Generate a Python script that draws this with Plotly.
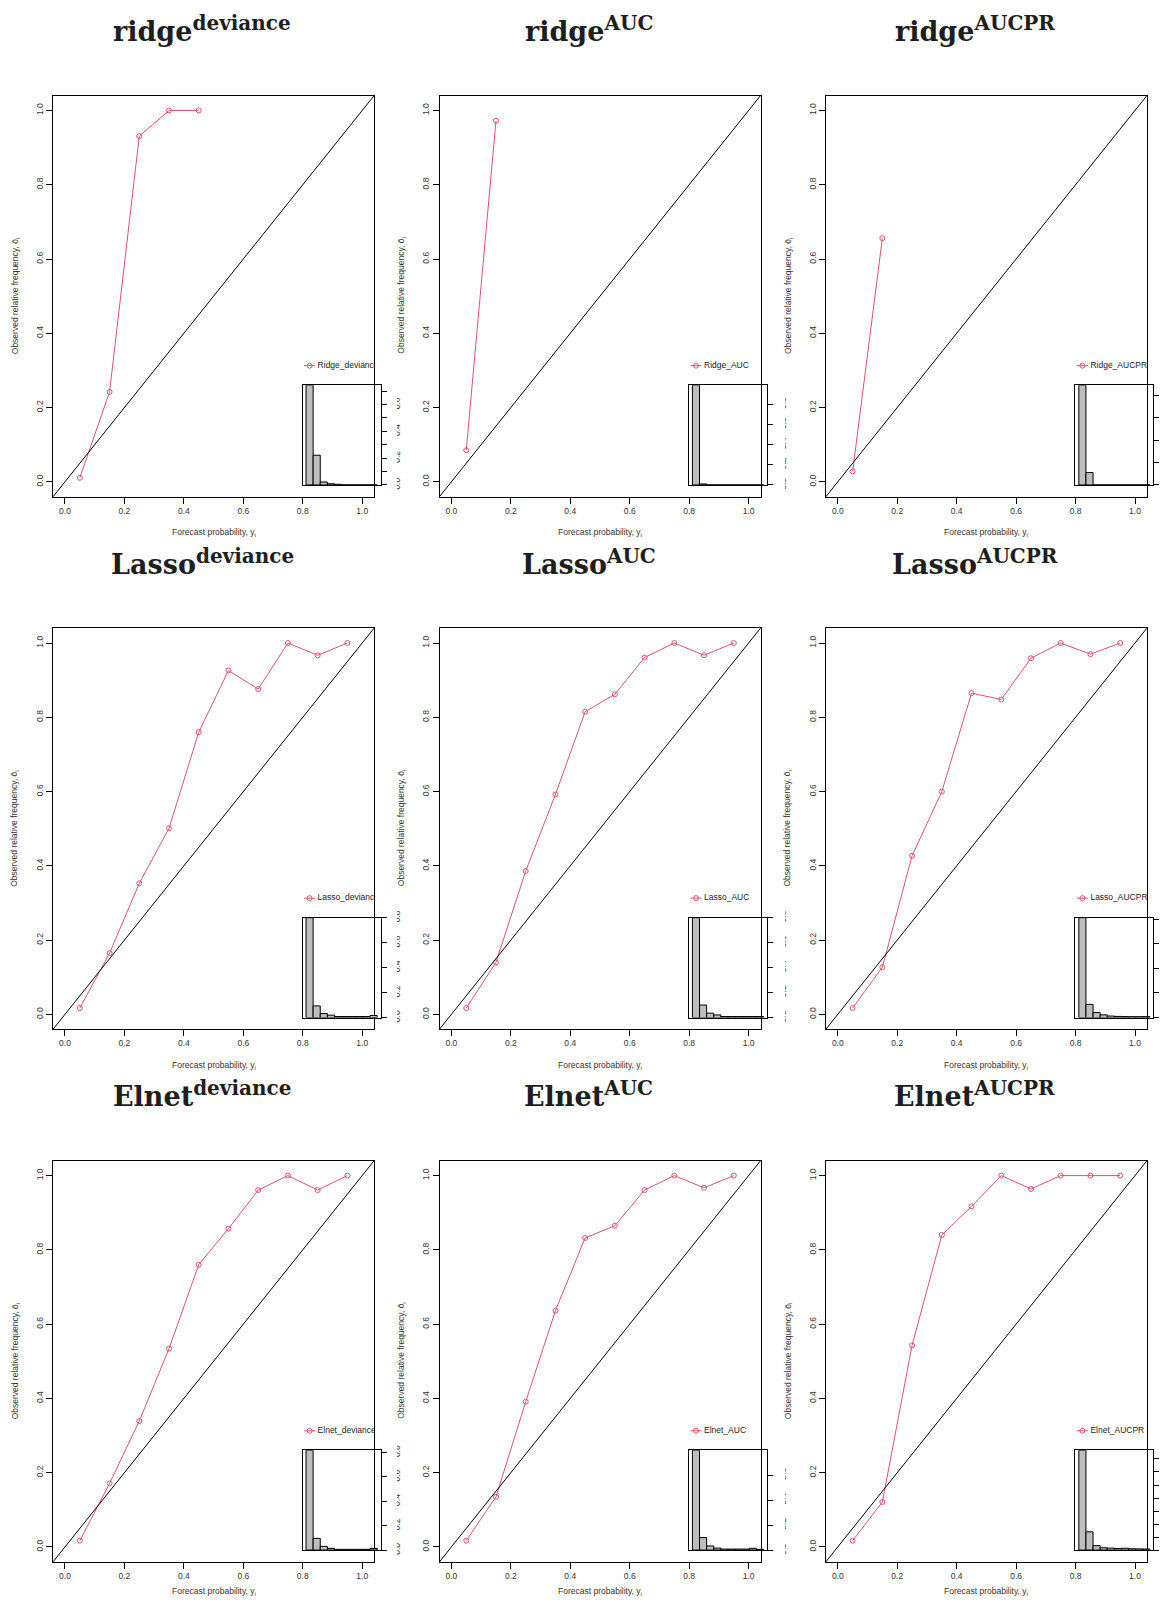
import plotly.graph_objects as go

W, H = 1164, 1603

# ---------------- data ----------------
row_models = ["Ridge", "Lasso", "Elnet"]
title_names = ["ridge", "Lasso", "Elnet"]
metrics = ["deviance", "AUC", "AUCPR"]

bin_mid = [0.05, 0.15, 0.25, 0.35, 0.45, 0.55, 0.65, 0.75, 0.85, 0.95]
axis_ticks = [0.0, 0.2, 0.4, 0.6, 0.8, 1.0]

# observed relative frequency per forecast bin
obs_ridge_deviance = [0.011, 0.242, 0.931, 1.0, 1.0]
obs_ridge_auc = [0.085, 0.972]
obs_ridge_aucpr = [0.028, 0.656]
obs_lasso_deviance = [0.017, 0.165, 0.353, 0.501, 0.760, 0.926, 0.876, 1.0, 0.967, 1.0]
obs_lasso_auc = [0.017, 0.140, 0.386, 0.592, 0.815, 0.862, 0.961, 1.0, 0.967, 1.0]
obs_lasso_aucpr = [0.017, 0.127, 0.427, 0.600, 0.865, 0.848, 0.959, 1.0, 0.970, 1.0]
obs_elnet_deviance = [0.017, 0.171, 0.339, 0.534, 0.760, 0.857, 0.961, 1.0, 0.961, 1.0]
obs_elnet_auc = [0.017, 0.135, 0.391, 0.636, 0.832, 0.865, 0.961, 1.0, 0.967, 1.0]
obs_elnet_aucpr = [0.017, 0.121, 0.543, 0.840, 0.917, 1.0, 0.964, 1.0, 1.0, 1.0]

# relative frequency of forecasts per bin (inset histogram)
hist_ridge_deviance = [0.745, 0.222, 0.022, 0.009, 0.005, 0, 0, 0, 0, 0]
hist_ridge_auc = [0.99, 0.01, 0, 0, 0, 0, 0, 0, 0, 0]
hist_ridge_aucpr = [0.89, 0.11, 0, 0, 0, 0, 0, 0, 0, 0]
hist_lasso_deviance = [0.80, 0.093, 0.032, 0.019, 0.008, 0.008, 0.008, 0.008, 0.008, 0.016]
hist_lasso_auc = [0.80, 0.10, 0.035, 0.021, 0.008, 0.008, 0.008, 0.008, 0.008, 0.008]
hist_lasso_aucpr = [0.814, 0.107, 0.041, 0.022, 0.012, 0.009, 0.008, 0.007, 0.007, 0.007]
hist_elnet_deviance = [0.818, 0.096, 0.030, 0.014, 0.006, 0.006, 0.006, 0.006, 0.006, 0.014]
hist_elnet_auc = [0.798, 0.10, 0.033, 0.016, 0.008, 0.008, 0.008, 0.008, 0.014, 0.006]
hist_elnet_aucpr = [0.767, 0.14, 0.034, 0.018, 0.015, 0.012, 0.014, 0.010, 0.009, 0.008]

# inset y tick values
inset_major = [0.0, 0.2, 0.4, 0.6, 0.8]
inset_minor = [0.1, 0.3, 0.5, 0.7]

obs_table = [
    [obs_ridge_deviance, obs_ridge_auc, obs_ridge_aucpr],
    [obs_lasso_deviance, obs_lasso_auc, obs_lasso_aucpr],
    [obs_elnet_deviance, obs_elnet_auc, obs_elnet_aucpr],
]
hist_table = [
    [hist_ridge_deviance, hist_ridge_auc, hist_ridge_aucpr],
    [hist_lasso_deviance, hist_lasso_auc, hist_lasso_aucpr],
    [hist_elnet_deviance, hist_elnet_auc, hist_elnet_aucpr],
]
fine_ticks = [[True, False, False], [False, False, False], [False, False, True]]

# ---------------- styling ----------------
RED = "#DF536B"
GREY = "#BEBEBE"
TXT = "#333333"
FONT = "Liberation Sans"

# vertical calibration of the captured page (measured on earlier renders)
OY, SY = 6.4, 0.9924

fig = go.Figure()
layout = dict(
    width=W, height=H, margin=dict(l=0, r=0, t=0, b=0, pad=0),
    paper_bgcolor="white", plot_bgcolor="rgba(0,0,0,0)",
    showlegend=False, font=dict(family=FONT, color=TXT),
)
annotations = []
shapes = []


def px_x(p):
    return p / W


def lay_y(p):
    return (p - OY) / SY


def px_y(p):
    return 1 - lay_y(p) / H


def rel_to_dx(rel):
    return -0.04 + rel / 321.0 * 1.08


def rel_to_dy(rel):
    return 1.04 - rel / 401.0 * 1.08


bins_x = [i + 0.5 for i in range(10)]

for r in range(3):
    for c in range(3):
        k = r * 3 + c
        bl = 53.1 + 386.4 * c
        br = bl + 321.0
        bt = 95.0 + 532.5 * r
        bb = bt + 401.0
        m = 2 * k + 1
        n = 2 * k + 2
        mxs = "x" if m == 1 else f"x{m}"
        mys = "y" if m == 1 else f"y{m}"
        nxs, nys = f"x{n}", f"y{n}"
        mxk = "xaxis" if m == 1 else f"xaxis{m}"
        myk = "yaxis" if m == 1 else f"yaxis{m}"
        nxk, nyk = f"xaxis{n}", f"yaxis{n}"

        obs = obs_table[r][c]
        hist = hist_table[r][c]
        label = f"{row_models[r]}_{metrics[c]}"

        # ----- main axes
        common = dict(
            range=[-0.04, 1.04], showline=True, mirror=True, linecolor="black",
            linewidth=1, ticks="outside", ticklen=6, tickcolor="black", tickwidth=1,
            tickvals=axis_ticks, ticktext=[f"{v:.1f}" for v in axis_ticks],
            tickfont=dict(size=8.5, color=TXT, family=FONT), showgrid=False,
            zeroline=False, fixedrange=True,
        )
        layout[mxk] = dict(common, domain=[px_x(bl), px_x(br)], anchor=mys)
        layout[myk] = dict(common, domain=[px_y(bb), px_y(bt)], anchor=mxs,
                           tickangle=-90)

        # diagonal reference line
        shapes.append(dict(type="line", xref=f"{mxs} domain", yref=f"{mys} domain",
                           x0=0, y0=0, x1=1, y1=1,
                           line=dict(color="black", width=1)))

        # reliability curve
        fig.add_trace(go.Scatter(
            x=bin_mid[:len(obs)], y=obs, xaxis=mxs, yaxis=mys,
            mode="lines+markers",
            line=dict(color=RED, width=1),
            marker=dict(symbol="circle-open", size=5, color=RED,
                        line=dict(color=RED, width=1)),
        ))

        # legend (clipped by the plot area, as in the original)
        ly = rel_to_dy(270)
        fig.add_trace(go.Scatter(
            x=[rel_to_dx(251), rel_to_dx(262)], y=[ly, ly], xaxis=mxs, yaxis=mys,
            mode="lines", line=dict(color=RED, width=1),
        ))
        fig.add_trace(go.Scatter(
            x=[rel_to_dx(256.5)], y=[ly], xaxis=mxs, yaxis=mys, mode="markers",
            marker=dict(symbol="circle-open", size=5, color=RED,
                        line=dict(color=RED, width=1)),
        ))
        fig.add_trace(go.Scatter(
            x=[rel_to_dx(264.5)], y=[ly], xaxis=mxs, yaxis=mys, mode="text",
            text=[label], textposition="middle right", cliponaxis=True,
            textfont=dict(size=8.5, color="#222222", family=FONT),
        ))

        # ----- inset histogram
        il, ir = bl + 249.5, bl + 327.5
        it, ib = bt + 289.5, bt + 389.3
        hmax = max(hist)
        tv = [v for v in inset_major if v <= hmax + 1e-9]
        minor = dict(ticks="")
        if fine_ticks[r][c]:
            minor = dict(tickvals=[v for v in inset_minor if v <= hmax + 1e-9],
                         ticks="outside", ticklen=5, tickcolor="black", tickwidth=1,
                         showgrid=False)
        layout[nxk] = dict(domain=[px_x(il), px_x(ir)], range=[-0.48, 10.48],
                           anchor=nys, showline=True, mirror=True, linecolor="black",
                           linewidth=1, showticklabels=False, ticks="",
                           showgrid=False, zeroline=False, fixedrange=True)
        layout[nyk] = dict(domain=[px_y(ib), px_y(it)], range=[0, hmax],
                           anchor=nxs, side="right", showline=True, mirror=True,
                           linecolor="black", linewidth=1, ticks="outside",
                           ticklen=5, tickcolor="black", tickvals=tv,
                           ticktext=[f"{v:.1f}" for v in tv],
                           showticklabels=(c < 2),
                           tickangle=-90, ticklabelstandoff=3, minor=minor,
                           tickfont=dict(size=8.5, color=TXT, family=FONT),
                           showgrid=False, zeroline=False, fixedrange=True)
        fig.add_trace(go.Bar(
            x=bins_x, y=hist, width=1, xaxis=nxs, yaxis=nys,
            marker=dict(color=GREY, line=dict(color="black", width=1)),
        ))

        # ----- titles and axis labels
        annotations.append(dict(
            text=(f"<b>{title_names[r]}<sup><span style='font-size:20px'>"
                  f"{metrics[c]}</span></sup></b>"),
            x=px_x(bl + 160.5 - 11.5), y=px_y(bt - 46.5), xref="paper", yref="paper",
            xanchor="center", yanchor="bottom", showarrow=False,
            font=dict(family="DejaVu Serif", size=27, color="#1e1e1e"),
        ))
        xt_layout = min(lay_y(bt + 437), 1596.5)
        annotations.append(dict(
            text="Forecast probability, y<sub>i</sub>",
            x=px_x(bl + 160.5), y=1 - xt_layout / H, xref="paper", yref="paper",
            xanchor="center", yanchor="middle", showarrow=False,
            font=dict(family=FONT, size=8.5, color=TXT),
        ))
        annotations.append(dict(
            text="Observed relative frequency, \u014d<sub>i</sub>",
            x=px_x(bl - 38), y=px_y(bt + 200.5), xref="paper", yref="paper",
            xanchor="center", yanchor="middle", showarrow=False, textangle=-90,
            font=dict(family=FONT, size=8.5, color=TXT),
        ))

# white strips emulating figure-region clipping of inset tick labels
for c in range(2):
    edge = 388.0 * (c + 1)
    shapes.append(dict(type="rect", xref="paper", yref="paper", layer="above",
                       x0=px_x(edge), x1=px_x(edge + 9), y0=0.01, y1=0.99,
                       fillcolor="white", line=dict(width=0)))

layout["annotations"] = annotations
layout["shapes"] = shapes
fig.update_layout(**layout)
fig.write_html("out.html")
